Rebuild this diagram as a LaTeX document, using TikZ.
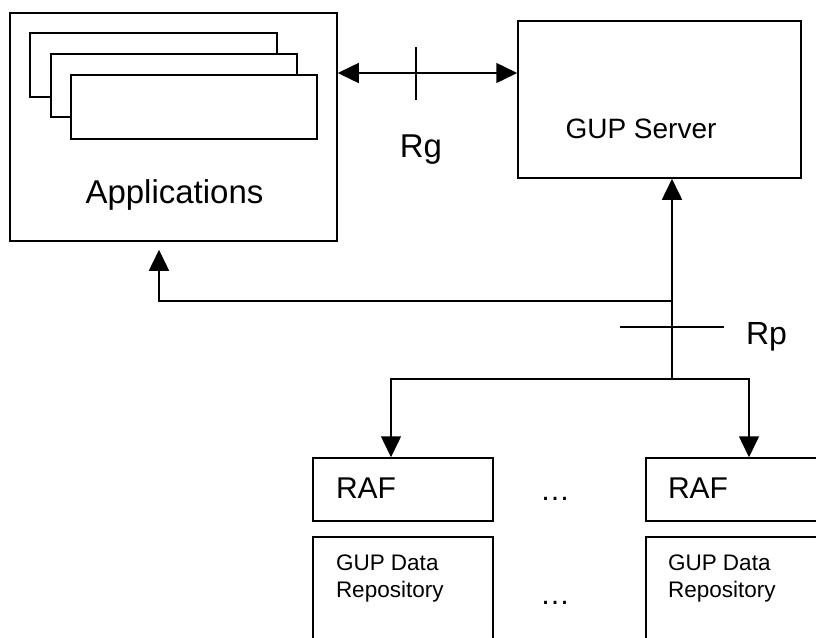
\documentclass[tikz,border=0pt]{standalone}
\usepackage{fontspec}
\setmainfont{Liberation Sans}
\usetikzlibrary{arrows.meta}
\tikzset{
  box/.style={draw, line width=1.5pt, fill=white, inner sep=0pt},
  conn/.style={line width=1.5pt},
  arr/.style={line width=1.5pt, -{Triangle[length=21pt,width=20pt]}},
  darr/.style={line width=1.5pt, {Triangle[length=21pt,width=20pt]}-{Triangle[length=21pt,width=20pt]}},
  lbl/.style={inner sep=0pt, outer sep=0pt},
  reptext/.style={lbl, anchor=base west, font=\fontsize{22.5}{27}\selectfont},
}
\begin{document}
\begin{tikzpicture}[x=1pt,y=-1pt]
\useasboundingbox (0,0) rectangle (816,637);
% Applications box
\node[box, minimum width=327pt, minimum height=228pt] (apps) at (173.5,127) {};
\node[box, minimum width=247pt, minimum height=64pt] (w1) at (153.5,65) {};
\node[box, minimum width=246pt, minimum height=63pt] (w2) at (174,85.5) {};
\node[box, minimum width=246pt, minimum height=64pt] (w3) at (194,107) {};
\node[lbl, anchor=base] (appstxt) at (174.5,203) {\fontsize{33}{40}\selectfont Applications};
% GUP server
\node[box, minimum width=283pt, minimum height=157pt] (gup) at (659.5,99.5) {};
\node[lbl, anchor=base] (guptxt) at (641,138) {\fontsize{28}{34}\selectfont GUP Server};
% RAF boxes
\node[box, minimum width=180pt, minimum height=63pt] (raf1) at (403,489.5) {};
\node[box, minimum width=180pt, minimum height=63pt] (raf2) at (736,489.5) {};
\node[lbl, anchor=base west] (raf1txt) at (336,498) {\fontsize{30}{36}\selectfont RAF};
\node[lbl, anchor=base west] (raf2txt) at (668,498) {\fontsize{30}{36}\selectfont RAF};
% Repository boxes
\node[box, minimum width=180pt, minimum height=130pt] (rep1) at (403,602) {};
\node[box, minimum width=180pt, minimum height=130pt] (rep2) at (736,602) {};
\node[reptext] (rep1a) at (336,570) {GUP Data};
\node[reptext] (rep1b) at (336,597) {Repository};
\node[reptext] (rep2a) at (668,570) {GUP Data};
\node[reptext] (rep2b) at (668,597) {Repository};
% dots
\node[lbl, anchor=base] (dots1) at (555,500) {\fontsize{30}{36}\selectfont …};
\node[lbl, anchor=base] (dots2) at (555,604) {\fontsize{30}{36}\selectfont …};
% Rg interface
\coordinate (rgy) at (0,73);
\draw[darr] (apps.east |- rgy) -- (gup.west |- rgy);
\coordinate (rgt1) at (416,47);
\coordinate (rgt2) at (416,100);
\draw[conn] (rgt1) -- (rgt2);
\node[lbl, anchor=base] (rg) at (421,157) {\fontsize{33}{40}\selectfont Rg};
% Rp interface
\coordinate (j1) at (672,301);
\coordinate (j2) at (672,379);
\coordinate (ax) at (159,0);
\coordinate (r1x) at (391,0);
\coordinate (r2x) at (749,0);
\draw[arr] (j2) -- (gup.south -| j2);
\draw[arr, shorten >=8pt] (j1) -| (apps.south -| ax);
\draw[arr] (j2) -| (raf1.north -| r1x);
\draw[arr] (j2) -| (raf2.north -| r2x);
\coordinate (rpt1) at (620,327);
\coordinate (rpt2) at (724,327);
\draw[conn] (rpt1) -- (rpt2);
\node[lbl, anchor=base west] (rp) at (746,344) {\fontsize{32}{38}\selectfont Rp};
\end{tikzpicture}
\end{document}
